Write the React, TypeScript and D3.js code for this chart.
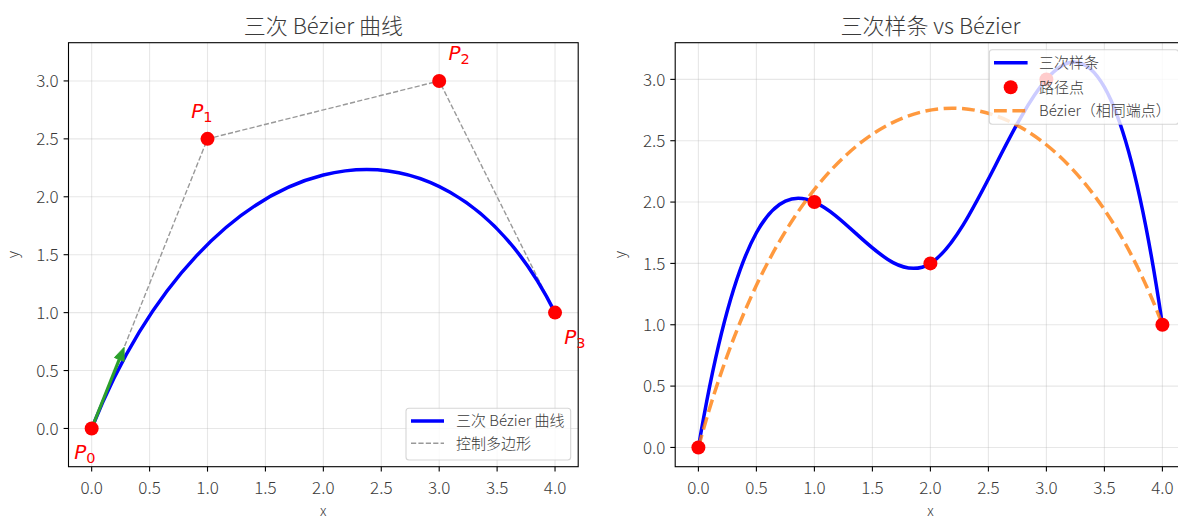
import React from "react";
import * as d3 from "d3";

// ---------- data ----------
const controlX = [0, 1, 3, 4];
const controlY = [0, 2.5, 3, 1];
const controlNames = ["0", "1", "2", "3"];
const pathX = [0, 1, 2, 3, 4];
const pathY = [0, 2, 1.5, 3, 1];
const sameEndBezierX = [0, 1, 3, 4];
const sameEndBezierY = [0, 3.5, 3.5, 1];
const tangentTip = [0.28, 0.7];
const xTicks = [0, 0.5, 1, 1.5, 2, 2.5, 3, 3.5, 4];
const yTicks = [0, 0.5, 1, 1.5, 2, 2.5, 3];
const leftXLim = [-0.2, 4.2];
const leftYLim = [-0.33, 3.33];
const rightXLim = [-0.2, 4.2];
const rightYLim = [-0.157, 3.299];
const titles = ["三次 Bézier 曲线", "三次样条 vs Bézier"];
const leftLegend = ["三次 Bézier 曲线", "控制多边形"];
const rightLegend = ["三次样条", "路径点", "Bézier（相同端点）"];

// ---------- layout ----------
const W = 1178;
const H = 520;
const TOP = 42.7;
const BOTTOM = 466.7;
const LEFT_AX = [68.5, 578.2];
const RIGHT_AX = [675.2, 1185.6];
const FONT = "'Noto Sans CJK SC', 'Noto Sans', sans-serif";
const TEXT = "#3a3a3a";
const TICK_FS = 17;

// not-a-knot cubic spline slopes
function notAKnotSlopes(xs: number[], ys: number[]) {
  const n = xs.length;
  const h = d3.range(n - 1).map((i) => xs[i + 1] - xs[i]);
  const A = d3.range(n).map(() => new Array(n).fill(0));
  const b = new Array(n).fill(0);
  A[0][0] = h[1];
  A[0][1] = -(h[0] + h[1]);
  A[0][2] = h[0];
  for (let i = 1; i < n - 1; i++) {
    A[i][i - 1] = h[i - 1];
    A[i][i] = 2 * (h[i - 1] + h[i]);
    A[i][i + 1] = h[i];
    b[i] = 6 * ((ys[i + 1] - ys[i]) / h[i] - (ys[i] - ys[i - 1]) / h[i - 1]);
  }
  A[n - 1][n - 3] = h[n - 2];
  A[n - 1][n - 2] = -(h[n - 3] + h[n - 2]);
  A[n - 1][n - 1] = h[n - 3];
  for (let c = 0; c < n; c++) {
    let p = c;
    for (let r = c + 1; r < n; r++) if (Math.abs(A[r][c]) > Math.abs(A[p][c])) p = r;
    [A[c], A[p]] = [A[p], A[c]];
    [b[c], b[p]] = [b[p], b[c]];
    for (let r = c + 1; r < n; r++) {
      const f = A[r][c] / A[c][c];
      for (let k = c; k < n; k++) A[r][k] -= f * A[c][k];
      b[r] -= f * b[c];
    }
  }
  const M = new Array(n).fill(0);
  for (let r = n - 1; r >= 0; r--) {
    let s = b[r];
    for (let k = r + 1; k < n; k++) s -= A[r][k] * M[k];
    M[r] = s / A[r][r];
  }
  const m = d3.range(n).map((i) =>
    i < n - 1
      ? (ys[i + 1] - ys[i]) / h[i] - (h[i] * (2 * M[i] + M[i + 1])) / 6
      : (ys[n - 1] - ys[n - 2]) / h[n - 2] + (h[n - 2] * (M[n - 2] + 2 * M[n - 1])) / 6
  );
  return { m, h };
}

function splinePath(xs: number[], ys: number[], sx: any, sy: any) {
  const { m, h } = notAKnotSlopes(xs, ys);
  const p = d3.path();
  p.moveTo(sx(xs[0]), sy(ys[0]));
  for (let i = 0; i < xs.length - 1; i++) {
    p.bezierCurveTo(
      sx(xs[i] + h[i] / 3), sy(ys[i] + (m[i] * h[i]) / 3),
      sx(xs[i + 1] - h[i] / 3), sy(ys[i + 1] - (m[i + 1] * h[i]) / 3),
      sx(xs[i + 1]), sy(ys[i + 1])
    );
  }
  return p.toString();
}

function bezierPath(xs: number[], ys: number[], sx: any, sy: any) {
  const p = d3.path();
  p.moveTo(sx(xs[0]), sy(ys[0]));
  p.bezierCurveTo(sx(xs[1]), sy(ys[1]), sx(xs[2]), sy(ys[2]), sx(xs[3]), sy(ys[3]));
  return p.toString();
}

function Axes({ sx, sy, ax, title, clipId, children, overlay }: any) {
  const [x0, x1] = ax;
  const cx = (x0 + x1) / 2;
  return (
    <g>
      <defs>
        <clipPath id={clipId}>
          <rect x={x0} y={TOP} width={x1 - x0} height={BOTTOM - TOP} />
        </clipPath>
      </defs>
      <g stroke="#b0b0b0" strokeOpacity={0.3} strokeWidth={1.1}>
        {xTicks.map((t) => (
          <line key={"gx" + t} x1={sx(t)} x2={sx(t)} y1={TOP} y2={BOTTOM} />
        ))}
        {yTicks.map((t) => (
          <line key={"gy" + t} x1={x0} x2={x1} y1={sy(t)} y2={sy(t)} />
        ))}
      </g>
      <g clipPath={`url(#${clipId})`}>{children}</g>
      <rect x={x0} y={TOP} width={x1 - x0} height={BOTTOM - TOP} fill="none" stroke="#000" strokeWidth={1.1} />
      <g stroke="#000" strokeWidth={1.1}>
        {xTicks.map((t) => (
          <line key={"tx" + t} x1={sx(t)} x2={sx(t)} y1={BOTTOM} y2={BOTTOM + 4.9} />
        ))}
        {yTicks.map((t) => (
          <line key={"ty" + t} x1={x0} x2={x0 - 4.9} y1={sy(t)} y2={sy(t)} />
        ))}
      </g>
      <g fontFamily={FONT} fontWeight={300} fontSize={TICK_FS} fill={TEXT}>
        {xTicks.map((t) => (
          <text key={"lx" + t} x={sx(t)} y={494} textAnchor="middle">
            {d3.format(".1f")(t)}
          </text>
        ))}
        {yTicks.map((t) => (
          <text key={"ly" + t} x={x0 - 9.8} y={sy(t) + 6.2} textAnchor="end">
            {d3.format(".1f")(t)}
          </text>
        ))}
      </g>
      <text x={cx} y={34} textAnchor="middle" fontFamily={FONT} fontWeight={300} fontSize={22} fill={TEXT}>
        {title}
      </text>
      <text x={cx} y={515.5} textAnchor="middle" fontFamily={FONT} fontWeight={300} fontSize={14} fill={TEXT}>
        x
      </text>
      <text
        transform={`translate(${x0 - 50.5},${(TOP + BOTTOM) / 2}) rotate(-90)`}
        textAnchor="middle"
        fontFamily={FONT}
        fontWeight={300}
        fontSize={15}
        fill={TEXT}
      >
        y
      </text>
      {overlay}
    </g>
  );
}

export default function App() {
  const sxL = d3.scaleLinear().domain(leftXLim).range(LEFT_AX);
  const syL = d3.scaleLinear().domain(leftYLim).range([BOTTOM, TOP]);
  const sxR = d3.scaleLinear().domain(rightXLim).range(RIGHT_AX);
  const syR = d3.scaleLinear().domain(rightYLim).range([BOTTOM, TOP]);

  const polyLine = d3
    .line<number>()
    .x((_, i) => sxL(controlX[i]))
    .y((_, i) => syL(controlY[i]))(controlX as any);

  const ax0 = sxL(controlX[0]);
  const ay0 = syL(controlY[0]);
  const ax1 = sxL(tangentTip[0]);
  const ay1 = syL(tangentTip[1]);
  const len = Math.hypot(ax1 - ax0, ay1 - ay0);
  const ux = (ax1 - ax0) / len;
  const uy = (ay1 - ay0) / len;
  const headL = 13;
  const headW = 5.2;
  const bx = ax1 - ux * headL;
  const by = ay1 - uy * headL;
  const px = -uy;
  const py = ux;

  const labelOffsets: any = {
    "0": [-0.15, -0.26],
    "1": [-0.14, 0.18],
    "2": [0.08, 0.18],
    "3": [0.08, -0.27],
  };

  const pLabels = controlNames.map((n, i) => (
    <text
      key={"p" + n}
      x={sxL(controlX[i] + labelOffsets[n][0])}
      y={syL(controlY[i] + labelOffsets[n][1])}
      fontFamily="'DejaVu Sans', sans-serif"
      fill="#ff0000"
    >
      <tspan fontStyle="italic" fontSize={20}>P</tspan>
      <tspan fontSize={14.5} dy={4}>{n}</tspan>
    </text>
  ));

  return (
    <div style={{ position: "fixed", left: 0, top: 0 }}>
      <svg width={W} height={H} viewBox={`0 0 ${W} ${H}`} style={{ display: "block", background: "#fff" }}>
        <rect width={W} height={H} fill="#fff" />
        <Axes sx={sxL} sy={syL} ax={LEFT_AX} title={titles[0]} clipId="clipL" overlay={pLabels}>
          <path d={polyLine as string} fill="none" stroke="#999" strokeWidth={1.4} strokeDasharray="5.2 2.2" />
          <path d={bezierPath(controlX, controlY, sxL, syL)} fill="none" stroke="#0000ff" strokeWidth={3.5} />
          <line x1={ax0} y1={ay0} x2={bx} y2={by} stroke="#2ca02c" strokeWidth={3.2} />
          <path
            d={`M${ax1},${ay1}L${bx + px * headW},${by + py * headW}L${bx - px * headW},${by - py * headW}Z`}
            fill="#2ca02c"
            stroke="#2ca02c"
            strokeWidth={1}
          />
          {controlX.map((x, i) => (
            <circle key={i} cx={sxL(x)} cy={syL(controlY[i])} r={7} fill="#ff0000" />
          ))}
        </Axes>
        <g>
          <rect x={406} y={408.3} width={164.7} height={51.7} rx={3} fill="#fff" fillOpacity={0.8} stroke="#ccc" strokeOpacity={0.8} strokeWidth={1.1} />
          <line x1={411} x2={444} y1={421} y2={421} stroke="#0000ff" strokeWidth={3.5} />
          <line x1={411} x2={444} y1={443.3} y2={443.3} stroke="#999" strokeWidth={1.4} strokeDasharray="5.2 2.2" />
          <g fontFamily={FONT} fontWeight={300} fontSize={15} fill={TEXT}>
            <text x={456} y={426.3}>{leftLegend[0]}</text>
            <text x={456} y={448.6}>{leftLegend[1]}</text>
          </g>
        </g>

        <Axes sx={sxR} sy={syR} ax={RIGHT_AX} title={titles[1]} clipId="clipR">
          <path d={splinePath(pathX, pathY, sxR, syR)} fill="none" stroke="#0000ff" strokeWidth={3.5} />
          <path
            d={bezierPath(sameEndBezierX, sameEndBezierY, sxR, syR)}
            fill="none"
            stroke="#ff7f0e"
            strokeOpacity={0.8}
            strokeWidth={3.5}
            strokeDasharray="12.8 5.6"
          />
          {pathX.map((x, i) => (
            <circle key={i} cx={sxR(x)} cy={syR(pathY[i])} r={7} fill="#ff0000" />
          ))}
        </Axes>
        <g>
          <rect x={989.3} y={49.7} width={189.3} height={74.6} rx={3} fill="#fff" fillOpacity={0.8} stroke="#ccc" strokeOpacity={0.8} strokeWidth={1.1} />
          <line x1={994} x2={1027.6} y1={62.7} y2={62.7} stroke="#0000ff" strokeWidth={3.5} />
          <circle cx={1010.7} cy={87.3} r={7} fill="#ff0000" />
          <line x1={994} x2={1027.6} y1={110.7} y2={110.7} stroke="#ff7f0e" strokeOpacity={0.8} strokeWidth={3.5} strokeDasharray="12.8 5.6" />
          <g fontFamily={FONT} fontWeight={300} fontSize={15} fill={TEXT}>
            <text x={1039} y={68}>{rightLegend[0]}</text>
            <text x={1039} y={92.6}>{rightLegend[1]}</text>
            <text x={1039} y={116}>{rightLegend[2]}</text>
          </g>
        </g>
      </svg>
    </div>
  );
}
